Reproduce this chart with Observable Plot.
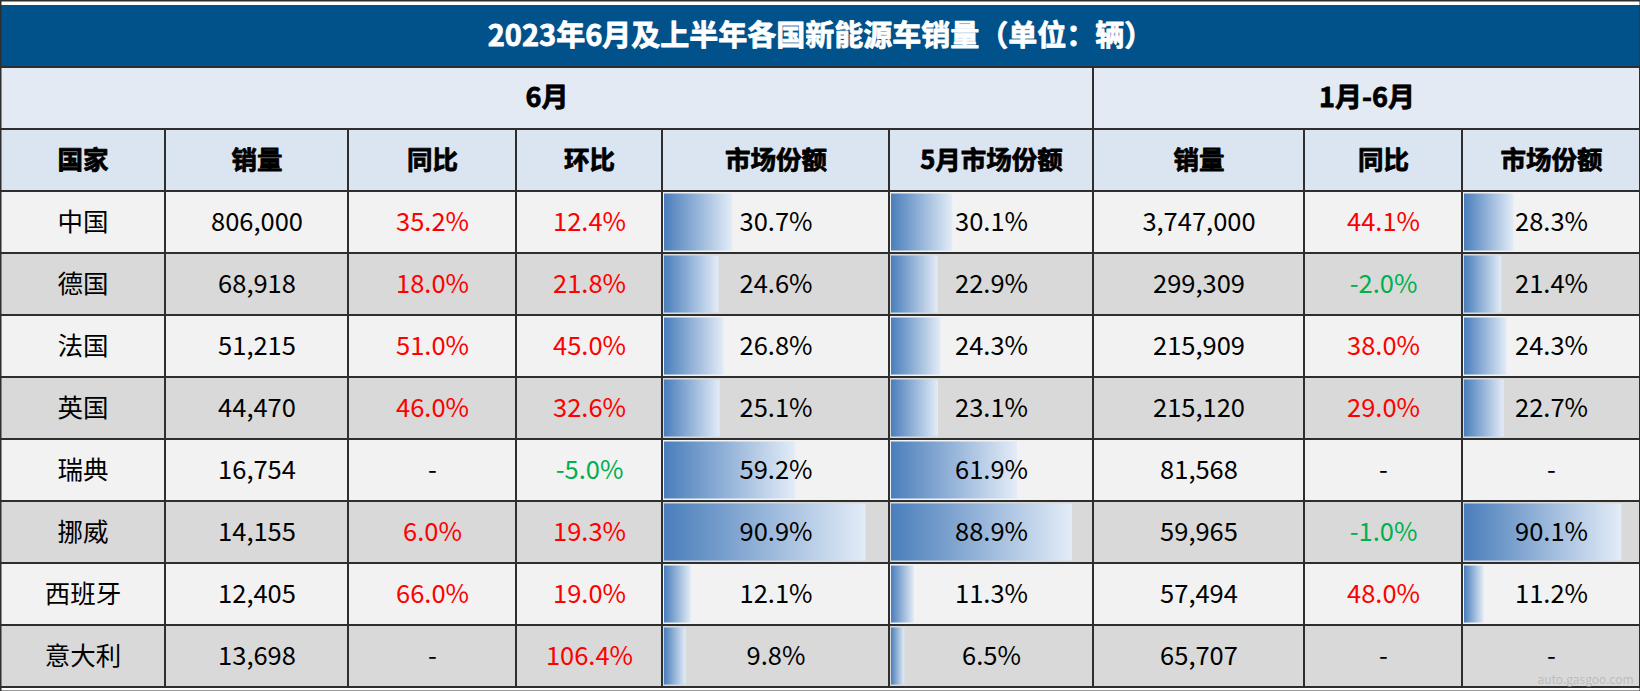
<!DOCTYPE html>
<html>
<head>
<meta charset="utf-8">
<script src="https://cdn.jsdelivr.net/npm/d3@7"></script>
<script src="https://cdn.jsdelivr.net/npm/@observablehq/plot@0.6"></script>
<style>
  html, body { margin: 0; padding: 0; background: #ffffff; }
  #chart svg { display: block; }
</style>
</head>
<body>
<div id="chart"></div>
<script>
// ---- data ----
const title = "2023年6月及上半年各国新能源车销量（单位：辆）";
const groupHeaders = ["6月", "1月-6月"];
const colHeaders = ["国家", "销量", "同比", "环比", "市场份额", "5月市场份额", "销量", "同比", "市场份额"];
const countries = ["中国", "德国", "法国", "英国", "瑞典", "挪威", "西班牙", "意大利"];
const sales6 = [806000, 68918, 51215, 44470, 16754, 14155, 12405, 13698];
const yoy6 = [35.2, 18.0, 51.0, 46.0, null, 6.0, 66.0, null];
const mom6 = [12.4, 21.8, 45.0, 32.6, -5.0, 19.3, 19.0, 106.4];
const share6 = [30.7, 24.6, 26.8, 25.1, 59.2, 90.9, 12.1, 9.8];
const share5 = [30.1, 22.9, 24.3, 23.1, 61.9, 88.9, 11.3, 6.5];
const salesH1 = [3747000, 299309, 215909, 215120, 81568, 59965, 57494, 65707];
const yoyH1 = [44.1, -2.0, 38.0, 29.0, null, -1.0, 48.0, null];
const shareH1 = [28.3, 21.4, 24.3, 22.7, null, 90.1, 11.2, null];
const watermark = "auto.gasgoo.com";

// ---- layout ----
const W = 1640, H = 691;
const colEdges = [0, 165, 348, 516, 662, 889, 1093, 1304, 1462, 1640];
const groupEdges = [[0, 1093], [1093, 1640]];
const rowKeys = ["title", "group", "head", ...countries];
const FONT = "'Noto Sans CJK SC', 'Noto Sans', sans-serif";
const RED = "#ff0000", GREEN = "#00b050", BORDER = "#2e2e2e";

const fmtInt = d3.format(",");
const fmtPct = v => v == null ? "-" : v.toFixed(1) + "%";
const signColor = v => v == null ? "#000" : (v < 0 ? GREEN : RED);

const columns = [
  {vals: countries, kind: "text"},
  {vals: sales6, kind: "int"},
  {vals: yoy6, kind: "signed"},
  {vals: mom6, kind: "signed"},
  {vals: share6, kind: "share"},
  {vals: share5, kind: "share"},
  {vals: salesH1, kind: "int"},
  {vals: yoyH1, kind: "signed"},
  {vals: shareH1, kind: "share"}
];

// cells
const cells = [];
cells.push({row: "title", x1: 0, x2: W, fill: "#01528a"});
groupEdges.forEach(([a, b]) => cells.push({row: "group", x1: a, x2: b, fill: "#e3eaf3"}));
for (let c = 0; c < 9; c++) cells.push({row: "head", x1: colEdges[c], x2: colEdges[c + 1], fill: "#dbe5f1"});
countries.forEach((k, i) => {
  for (let c = 0; c < 9; c++)
    cells.push({row: k, x1: colEdges[c], x2: colEdges[c + 1], fill: i % 2 === 0 ? "#f2f2f2" : "#d9d9d9"});
});

// data bars
const bars = [];
columns.forEach((col, c) => {
  if (col.kind !== "share") return;
  const w = colEdges[c + 1] - colEdges[c] - 3;
  const mx = d3.max(col.vals);
  col.vals.forEach((v, i) => {
    if (v == null) return;
    bars.push({row: countries[i], x1: colEdges[c] + 2, x2: colEdges[c] + 2 + v / mx * 0.9 * w});
  });
});

// texts
const texts = [];
texts.push({row: "title", x: W / 2, text: title, fill: "#ffffff", bold: true, size: 29});
groupEdges.forEach(([a, b], g) => texts.push({row: "group", x: (a + b) / 2, text: groupHeaders[g], fill: "#000", bold: true, size: 27}));
colHeaders.forEach((h, c) => texts.push({row: "head", x: (colEdges[c] + colEdges[c + 1]) / 2, text: h, fill: "#000", bold: true, size: 25.5}));
columns.forEach((col, c) => {
  const cx = (colEdges[c] + colEdges[c + 1]) / 2;
  col.vals.forEach((v, i) => {
    let t, f = "#000";
    if (col.kind === "text") t = v;
    else if (col.kind === "int") t = fmtInt(v);
    else if (col.kind === "signed") { t = fmtPct(v); f = signColor(v); }
    else t = fmtPct(v);
    texts.push({row: countries[i], x: cx, text: t, fill: f, bold: false, size: 25.5});
  });
});

const chart = Plot.plot({
  width: W,
  height: H,
  margin: 0,
  style: {fontFamily: FONT, background: "#ffffff", overflow: "visible"},
  x: {type: "linear", domain: [0, W], range: [0, W], axis: null},
  y: {type: "band", domain: rowKeys, range: [0, H], padding: 0, axis: null},
  marks: [
    Plot.barX(cells, {x1: "x1", x2: "x2", y: "row", fill: "fill", inset: 0}),
    Plot.barX(bars, {x1: "x1", x2: "x2", y: "row", fill: "url(#dbar)", insetTop: 2.5, insetBottom: 2.5}),
    Plot.barX(cells.filter(d => d.row !== "title"), {x1: "x1", x2: "x2", y: "row", fill: "none", stroke: BORDER, strokeWidth: 2, inset: 0}),
    Plot.text(texts.filter(d => !d.bold), {
      x: "x", y: "row", text: "text", fill: "fill",
      fontSize: d => d.size, fontFamily: FONT, textAnchor: "middle", lineAnchor: "middle"
    }),
    Plot.text(texts.filter(d => d.bold), {
      x: "x", y: "row", text: "text", fill: "fill", stroke: "fill", strokeWidth: 0.8,
      fontSize: d => d.size, fontWeight: "bold", fontFamily: FONT, textAnchor: "middle", lineAnchor: "middle"
    }),
    Plot.text([countries[countries.length - 1]], {
      x: [1585], y: d => d, text: [watermark], fill: "#a8a8a8", fillOpacity: 0.6,
      fontSize: 12, fontFamily: FONT, dy: 24, textAnchor: "middle"
    }),
    Plot.frame({stroke: BORDER, strokeWidth: 2})
  ]
});

d3.select(chart).insert("defs", ":first-child").html(
  '<linearGradient id="dbar" x1="0" x2="1" y1="0" y2="0">' +
  '<stop offset="0" stop-color="#4a7ebb"/>' +
  '<stop offset="1" stop-color="#e3ecf7"/>' +
  '</linearGradient>'
);

document.getElementById("chart").appendChild(chart);
</script>
</body>
</html>
